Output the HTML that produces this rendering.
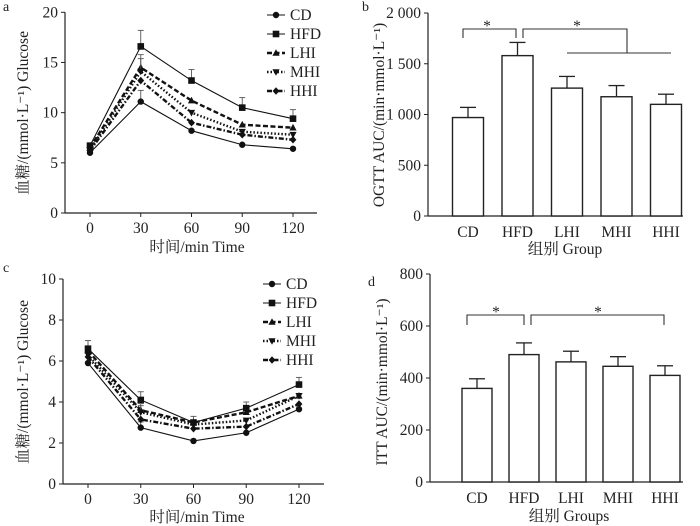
<!DOCTYPE html>
<html><head><meta charset="utf-8"><style>
html,body{margin:0;padding:0;background:#fff;width:700px;height:526px;overflow:hidden}
svg{display:block;font-family:"Liberation Serif","Noto Serif CJK SC",serif}
</style></head><body>
<svg id="fig" width="700" height="526" viewBox="0 0 700 526"></svg>
<script>
const times=[0,30,60,90,120];
const groups=["CD","HFD","LHI","MHI","HHI"];
const ogttCD=[6.0,11.1,8.2,6.8,6.4];
const ogttHFD=[6.7,16.6,13.2,10.5,9.4];
const ogttLHI=[6.5,14.5,11.2,8.8,8.5];
const ogttMHI=[6.3,14.1,10.0,8.1,7.8];
const ogttHHI=[6.2,13.2,9.0,7.8,7.3];
const ogttErr=[0.3,1.6,1.1,1.0,0.9];
const ittCD=[5.9,2.75,2.1,2.5,3.65];
const ittHFD=[6.6,4.1,3.0,3.7,4.85];
const ittLHI=[6.5,3.6,3.0,3.5,4.3];
const ittMHI=[6.3,3.5,2.9,3.1,4.3];
const ittHHI=[6.2,3.15,2.7,2.8,3.9];
const ittErr=[0.4,0.4,0.3,0.3,0.35];
const ogttAuc=[970,1580,1260,1175,1100];
const ogttAucErr=[100,130,115,110,100];
const ittAuc=[360,490,462,445,410];
const ittAucErr=[37,45,41,37,37];
const ticksA=[0,5,10,15,20];
const ticksB=[0,500,1000,1500,2000];
const ticksBLabels=["0","500","1 000","1 500","2 000"];
const ticksC=[0,2,4,6,8,10];
const ticksD=[0,200,400,600,800];

const NS="http://www.w3.org/2000/svg";
const svg=document.getElementById('fig');
const FS=15.5;
function el(tag,attrs,parent,text){const e=document.createElementNS(NS,tag);for(const k in attrs)e.setAttribute(k,attrs[k]);if(text!==undefined)e.textContent=text;(parent||svg).appendChild(e);return e;}
function grp(name){const g=el('g',{});return g;}
function txt(g,x,y,s,name,opts){const t=el('text',Object.assign({x:x,y:y,'font-size':FS,fill:'#222'},opts||{}),g,s);return t;}

const styles={CD:{dash:'',m:'circle'},HFD:{dash:'',m:'square'},LHI:{dash:'5,2.5',m:'tri'},MHI:{dash:'1.5,2',m:'tridown'},HHI:{dash:'5,2,1.5,2',m:'diamond'}};
function marker(g,type,x,y){let m;
 if(type==='circle')m=el('circle',{cx:x,cy:y,r:3.2,fill:'#111'},g);
 else if(type==='square')m=el('rect',{x:x-3.3,y:y-3.3,width:6.6,height:6.6,fill:'#111'},g);
 else if(type==='tri')m=el('polygon',{points:`${x},${y-3.8} ${x-3.6},${y+2.8} ${x+3.6},${y+2.8}`,fill:'#111'},g);
 else if(type==='tridown')m=el('polygon',{points:`${x},${y+3.8} ${x-3.6},${y-2.8} ${x+3.6},${y-2.8}`,fill:'#111'},g);
 else m=el('polygon',{points:`${x},${y-3.8} ${x+3.4},${y} ${x},${y+3.8} ${x-3.4},${y}`,fill:'#111'},g);
 }

function lineChart(cfg){
 const g=grp(cfg.name);
 const sx=v=>cfg.x0+(v-0)/120*(cfg.x1-cfg.x0);
 const sy=v=>cfg.yb-(v/cfg.ymax)*(cfg.yb-cfg.yt);
 el('line',{x1:cfg.ax,y1:cfg.yt,x2:cfg.ax,y2:cfg.yb,stroke:'#222','stroke-width':1.2},g);
 el('line',{x1:cfg.ax,y1:cfg.yb,x2:cfg.axEnd,y2:cfg.yb,stroke:'#222','stroke-width':1.2},g);
 cfg.yticks.forEach(v=>{el('line',{x1:cfg.ax-4,x2:cfg.ax,y1:sy(v),y2:sy(v),stroke:'#222'},g);txt(g,cfg.ax-7,sy(v)+5,String(v),'y-tick-label',{'text-anchor':'end'});});
 times.forEach(t=>{el('line',{x1:sx(t),x2:sx(t),y1:cfg.yb,y2:cfg.yb+4,stroke:'#222'},g);txt(g,sx(t),cfg.yb+20,String(t),'x-tick-label',{'text-anchor':'middle'});});
 groups.forEach((name,i)=>{const d=cfg.series[i];const s=styles[name];
  const sg=el('g',{},g);
  if(name==='HFD'||name==='LHI'||name==='MHI'){d.forEach((v,j)=>{const e=cfg.err[j];if(name!=='HFD'&&j!==1)return;const top=sy(v+(name==='HFD'?e:e*0.8));el('line',{x1:sx(times[j]),x2:sx(times[j]),y1:sy(v),y2:top,stroke:'#555','stroke-width':0.9},sg);el('line',{x1:sx(times[j])-3,x2:sx(times[j])+3,y1:top,y2:top,stroke:'#555','stroke-width':0.9},sg);});}
  if(name==='CD'){d.forEach((v,j)=>{if(j!==1)return;const top=sy(v+cfg.err[j]*0.7);el('line',{x1:sx(times[j]),x2:sx(times[j]),y1:sy(v),y2:top,stroke:'#555','stroke-width':0.9},sg);el('line',{x1:sx(times[j])-3,x2:sx(times[j])+3,y1:top,y2:top,stroke:'#555','stroke-width':0.9},sg);});}
  const pts=d.map((v,j)=>sx(times[j])+','+sy(v)).join(' ');
  const pl=el('polyline',{points:pts,fill:'none',stroke:'#111','stroke-width':s.dash?2.4:1.1,'stroke-dasharray':s.dash},sg);
  d.forEach((v,j)=>marker(sg,s.m,sx(times[j]),sy(v)));
  const ly=cfg.ly+i*cfg.lstep;const lg=el('g',{},g);
  el('line',{x1:cfg.lx,x2:cfg.lx+18,y1:ly,y2:ly,stroke:'#111','stroke-width':s.dash?2.4:1.1,'stroke-dasharray':s.dash},lg);
  marker(lg,s.m,cfg.lx+9,ly);
  txt(lg,cfg.lx+23,ly+5,name,'legend-label',{});
 });
 txt(g,cfg.titleX,cfg.titleY,'时间/min Time','x-axis-title',{'text-anchor':'middle'});
 txt(g,0,0,'血糖/(mmol·L⁻¹) Glucose','y-axis-title',{'text-anchor':'middle',transform:`translate(${cfg.ytX},${cfg.ytY}) rotate(-90)`});
 txt(g,cfg.letterX,cfg.letterY,cfg.letter,'panel-label',{'font-size':14});
}
function barChart(cfg){
 const g=grp(cfg.name);
 const sy=v=>cfg.yb-(v/cfg.ymax)*(cfg.yb-cfg.yt);
 el('line',{x1:cfg.ax,y1:cfg.yt,x2:cfg.ax,y2:cfg.yb,stroke:'#222','stroke-width':1.2},g);
 el('line',{x1:cfg.ax,y1:cfg.yb,x2:cfg.axEnd,y2:cfg.yb,stroke:'#222','stroke-width':1.2},g);
 cfg.yticks.forEach((v,i)=>{el('line',{x1:cfg.ax-4,x2:cfg.ax,y1:sy(v),y2:sy(v),stroke:'#222'},g);txt(g,cfg.ax-7,sy(v)+5,cfg.ylabels[i],'y-tick-label',{'text-anchor':'end'});});
 groups.forEach((name,i)=>{const cx=cfg.c0+i*cfg.step;const v=cfg.vals[i];const e=cfg.err[i];
  const bg=el('g',{},g);
  el('line',{x1:cx,x2:cx,y1:sy(v),y2:sy(v+e),stroke:'#222','stroke-width':1.3},bg);
  el('line',{x1:cx-8,x2:cx+8,y1:sy(v+e),y2:sy(v+e),stroke:'#222','stroke-width':1.3},bg);
  el('rect',{x:cx-cfg.bw/2,y:sy(v),width:cfg.bw,height:cfg.yb-sy(v),fill:'#fff',stroke:'#222','stroke-width':1.4},bg);
  txt(g,cx,cfg.yb+21,name,'x-tick-label',{'text-anchor':'middle'});
 });
 const br=el('g',{fill:'none',stroke:'#333','stroke-width':1.1},g);
 cfg.brackets.forEach(b=>el('polyline',{points:b},br));
 cfg.stars.forEach(s=>txt(g,s[0],s[1],'*','significance-star',{'text-anchor':'middle'}));
 txt(g,cfg.titleX,cfg.titleY,cfg.xtitle,'x-axis-title',{'text-anchor':'middle'});
 txt(g,0,0,cfg.ytitle,'y-axis-title',{'text-anchor':'middle',transform:`translate(${cfg.ytX},${cfg.ytY}) rotate(-90)`});
 txt(g,cfg.letterX,cfg.letterY,cfg.letter,'panel-label',{'font-size':14});
}
lineChart({name:'chart-a-ogtt',x0:90,x1:293,ax:65,axEnd:317,yt:12.3,yb:213,ymax:20,yticks:ticksA,series:[ogttCD,ogttHFD,ogttLHI,ogttMHI,ogttHHI],err:ogttErr,lx:267,ly:15,lstep:19,titleX:197,titleY:252,ytX:28,ytY:113,letter:'a',letterX:3,letterY:11});
lineChart({name:'chart-c-itt',x0:88,x1:299,ax:63,axEnd:324,yt:279,yb:484,ymax:10,yticks:ticksC,series:[ittCD,ittHFD,ittLHI,ittMHI,ittHHI],err:ittErr,lx:263,ly:284,lstep:19,titleX:197,titleY:522,ytX:28,ytY:382,letter:'c',letterX:3,letterY:272});
barChart({name:'chart-b-ogtt-auc',ax:428,axEnd:683,yt:13,yb:216,ymax:2000,yticks:ticksB,ylabels:ticksBLabels,vals:ogttAuc,err:ogttAucErr,c0:468,step:49.5,bw:31,
 brackets:['463,38 463,29 516,29 516,38','523,38 523,29 627,29 627,53','567,53 671,53'],stars:[[487,31],[577,31]],
 xtitle:'组别 Group',titleX:565,titleY:254,ytitle:'OGTT AUC/(min·mmol·L⁻¹)',ytX:384,ytY:115,letter:'b',letterX:362,letterY:11});
barChart({name:'chart-d-itt-auc',ax:430,axEnd:683,yt:274,yb:482,ymax:800,yticks:ticksD,ylabels:ticksD.map(String),vals:ittAuc,err:ittAucErr,c0:477,step:47,bw:30,
 brackets:['467,325 467,315 524,315 524,325','531,325 531,315 664,315 664,325'],stars:[[496,317],[598,317]],
 xtitle:'组别 Groups',titleX:569,titleY:521,ytitle:'ITT AUC/(min·mmol·L⁻¹)',ytX:387,ytY:382,letter:'d',letterX:368,letterY:286});
</script>
</body></html>
